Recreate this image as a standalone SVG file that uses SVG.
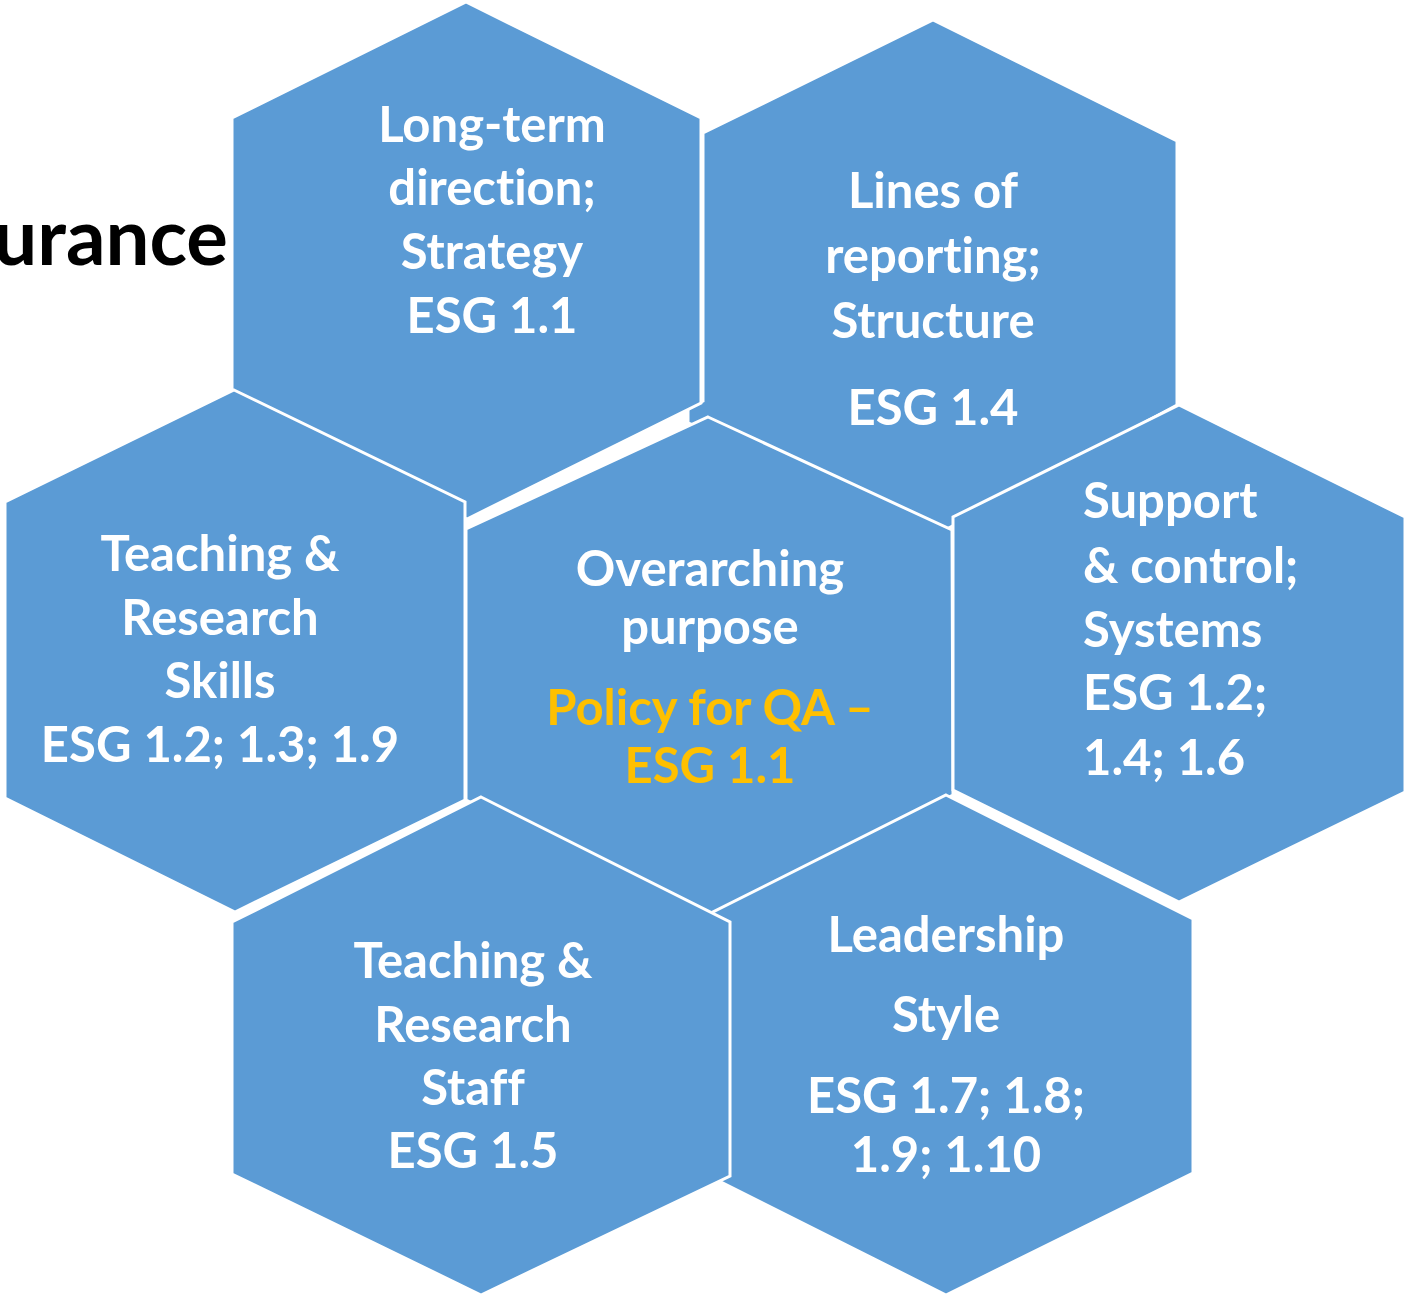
<svg xmlns="http://www.w3.org/2000/svg" width="1409" height="1297" viewBox="0 0 1409 1297">
  <style>
    .hex { fill: #5B9BD5; stroke: #FFFFFF; stroke-width: 3; stroke-linejoin: miter; }
    .lbl { font-family: Lato, "Open Sans", "Liberation Sans", sans-serif; font-weight: 700; font-size: 49px; fill: #FFFFFF; text-anchor: middle; font-variant-ligatures: none; font-feature-settings: "liga" 0, "clig" 0; }
    .left { text-anchor: start; }
    .accent { fill: #FFC000; }
    .title { font-family: Lato, "Open Sans", "Liberation Sans", sans-serif; font-weight: 700; font-size: 78px; fill: #000000; text-anchor: end; font-variant-ligatures: none; }
  </style>

  <rect x="0" y="0" width="1409" height="1297" fill="#FFFFFF"/>

  <!-- heading, cut at the left edge -->
  <text class="title" x="228" y="265">urance</text>

  <!-- no connectors: the cells simply tile against each other -->
  <g id="connectors"></g>

  <!-- upper right: reporting lines -->
  <g id="node-structure">
    <polygon class="hex" points="933,20 1177,141 1177,405 945,530 688,423 688,408 703,401 703,133"/>
    <text class="lbl" x="933" y="208">Lines of</text>
    <text class="lbl" x="933" y="273">reporting;</text>
    <text class="lbl" x="933" y="338">Structure</text>
    <text class="lbl" x="933" y="425">ESG 1.4</text>
  </g>

  <!-- upper left: strategy -->
  <g id="node-strategy">
    <polygon class="hex" points="466,2 701,118 701,403 467,519 232,403 232,118"/>
    <text class="lbl" x="492" y="142">Long-term</text>
    <text class="lbl" x="492" y="205">direction;</text>
    <text class="lbl" x="492" y="269">Strategy</text>
    <text class="lbl" x="492" y="333">ESG 1.1</text>
  </g>

  <!-- left: skills -->
  <g id="node-skills">
    <polygon class="hex" points="234,390 465,502 465,800 235,912 5,798 5,502"/>
    <text class="lbl" x="220" y="571">Teaching &amp;</text>
    <text class="lbl" x="220" y="635">Research</text>
    <text class="lbl" x="220" y="698">Skills</text>
    <text class="lbl" x="220" y="762">ESG 1.2; 1.3; 1.9</text>
  </g>

  <!-- centre: overarching purpose -->
  <g id="node-purpose">
    <polygon class="hex" points="708,417 952,530 953,795 710,915 466,800 466,529"/>
    <text class="lbl" x="710" y="586">Overarching</text>
    <text class="lbl" x="710" y="644">purpose</text>
    <text class="lbl accent" x="710" y="725">Policy for QA –</text>
    <text class="lbl accent" x="710" y="783">ESG 1.1</text>
  </g>

  <!-- right: systems -->
  <g id="node-systems">
    <polygon class="hex" points="1179,405 1405,517 1405,792 1179,902 953,790 953,517"/>
    <text class="lbl left" x="1083" y="518">Support</text>
    <text class="lbl left" x="1083" y="583">&amp; control;</text>
    <text class="lbl left" x="1083" y="647">Systems</text>
    <text class="lbl left" x="1083" y="710">ESG 1.2;</text>
    <text class="lbl left" x="1083" y="775">1.4; 1.6</text>
  </g>

  <!-- lower right: leadership -->
  <g id="node-leadership">
    <polygon class="hex" points="946,795 1193,919 1193,1173 946,1295 713,1178 713,912"/>
    <text class="lbl" x="946" y="952">Leadership</text>
    <text class="lbl" x="946" y="1032">Style</text>
    <text class="lbl" x="946" y="1113">ESG 1.7; 1.8;</text>
    <text class="lbl" x="946" y="1172">1.9; 1.10</text>
  </g>

  <!-- lower left: staff -->
  <g id="node-staff">
    <polygon class="hex" points="481,797 730,922 730,1176 481,1295 232,1174 232,922"/>
    <text class="lbl" x="473" y="978">Teaching &amp;</text>
    <text class="lbl" x="473" y="1042">Research</text>
    <text class="lbl" x="473" y="1105">Staff</text>
    <text class="lbl" x="473" y="1168">ESG 1.5</text>
  </g>
</svg>
